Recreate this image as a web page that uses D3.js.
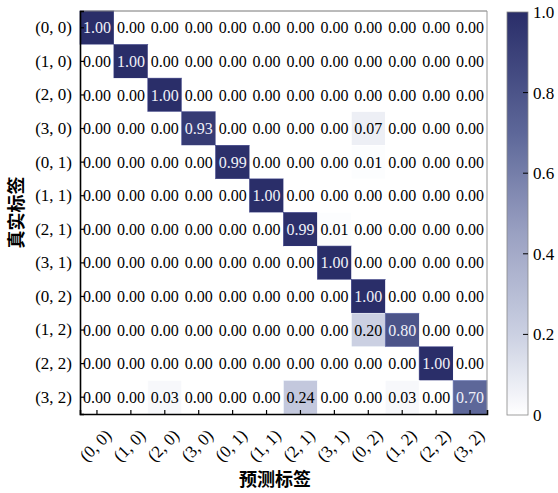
<!DOCTYPE html>
<html>
<head>
<meta charset="utf-8">
<script src="https://cdn.jsdelivr.net/npm/d3@7"></script>
<style>
  body { margin: 0; background: #fff; }
  svg { display: block; }
</style>
</head>
<body>
<svg width="558" height="493"></svg>
<script>
// class labels (same order on both axes)
var labels = ["(0, 0)", "(1, 0)", "(2, 0)", "(3, 0)", "(0, 1)", "(1, 1)",
              "(2, 1)", "(3, 1)", "(0, 2)", "(1, 2)", "(2, 2)", "(3, 2)"];

// normalised confusion matrix, one row per true label
var matrix = [
  [1.00, 0.00, 0.00, 0.00, 0.00, 0.00, 0.00, 0.00, 0.00, 0.00, 0.00, 0.00],
  [0.00, 1.00, 0.00, 0.00, 0.00, 0.00, 0.00, 0.00, 0.00, 0.00, 0.00, 0.00],
  [0.00, 0.00, 1.00, 0.00, 0.00, 0.00, 0.00, 0.00, 0.00, 0.00, 0.00, 0.00],
  [0.00, 0.00, 0.00, 0.93, 0.00, 0.00, 0.00, 0.00, 0.07, 0.00, 0.00, 0.00],
  [0.00, 0.00, 0.00, 0.00, 0.99, 0.00, 0.00, 0.00, 0.01, 0.00, 0.00, 0.00],
  [0.00, 0.00, 0.00, 0.00, 0.00, 1.00, 0.00, 0.00, 0.00, 0.00, 0.00, 0.00],
  [0.00, 0.00, 0.00, 0.00, 0.00, 0.00, 0.99, 0.01, 0.00, 0.00, 0.00, 0.00],
  [0.00, 0.00, 0.00, 0.00, 0.00, 0.00, 0.00, 1.00, 0.00, 0.00, 0.00, 0.00],
  [0.00, 0.00, 0.00, 0.00, 0.00, 0.00, 0.00, 0.00, 1.00, 0.00, 0.00, 0.00],
  [0.00, 0.00, 0.00, 0.00, 0.00, 0.00, 0.00, 0.00, 0.20, 0.80, 0.00, 0.00],
  [0.00, 0.00, 0.00, 0.00, 0.00, 0.00, 0.00, 0.00, 0.00, 0.00, 1.00, 0.00],
  [0.00, 0.00, 0.03, 0.00, 0.00, 0.00, 0.24, 0.00, 0.00, 0.03, 0.00, 0.70]
];

var cbTicks = [0, 0.2, 0.4, 0.6, 0.8, 1.0];

var svg = d3.select("svg"),
    margin = {top: 11, left: 80},
    width = 407,
    height = 403,
    serif = "'Liberation Serif', 'Times New Roman', serif",
    cjk = "'Noto Sans CJK SC', sans-serif";

var g = svg.append("g").attr("transform", "translate(" + margin.left + "," + margin.top + ")");

var x = d3.scaleBand().domain(d3.range(labels.length)).range([0, width]);
var y = d3.scaleBand().domain(d3.range(labels.length)).range([0, height]);

var color = d3.scaleLinear()
    .domain([0, 0.2, 0.45, 0.7, 1])
    .range(["#ffffff", "#cbd0e2", "#9aa1c2", "#5d6799", "#2a2e69"])
    .clamp(true);

var cells = [];
matrix.forEach(function(row, i) {
  row.forEach(function(v, j) { cells.push({r: i, c: j, v: v}); });
});

g.selectAll("rect.cell")
  .data(cells)
  .enter().append("rect")
    .attr("class", "cell")
    .attr("x", function(d) { return x(d.c); })
    .attr("y", function(d) { return y(d.r); })
    .attr("width", x.bandwidth())
    .attr("height", y.bandwidth())
    .attr("fill", function(d) { return color(d.v); })
    .attr("stroke", function(d) { return d.v > 0 ? d3.color(color(d.v)).brighter(0.6) : "none"; })
    .attr("stroke-width", 0.6);

g.selectAll("text.val")
  .data(cells)
  .enter().append("text")
    .attr("class", "val")
    .attr("x", function(d) { return x(d.c) + x.bandwidth() / 2; })
    .attr("y", function(d) { return y(d.r) + y.bandwidth() / 2; })
    .attr("dy", "0.35em")
    .attr("text-anchor", "middle")
    .attr("font-family", serif)
    .attr("font-size", "16px")
    .attr("fill", function(d) { return d.v > 0.5 ? "#f0f0f8" : "#000"; })
    .text(function(d) { return d.v.toFixed(2); });

// frame: grey top/right, black left/bottom
g.append("line").attr("x1", 0).attr("x2", width).attr("y1", 0).attr("y2", 0)
  .attr("stroke", "#777").attr("stroke-width", 1);
g.append("line").attr("x1", width).attr("x2", width).attr("y1", 0).attr("y2", height)
  .attr("stroke", "#999").attr("stroke-width", 1);

var yAxis = g.append("g")
    .call(d3.axisLeft(y).tickSize(-4).tickPadding(8).tickFormat(function(i) { return labels[i]; }));
var xAxis = g.append("g")
    .attr("transform", "translate(0," + height + ")")
    .call(d3.axisBottom(x).tickSize(-4).tickFormat(function(i) { return labels[i]; }));

[yAxis, xAxis].forEach(function(a) {
  a.select(".domain").attr("stroke", "#000").attr("stroke-width", 1.6);
  a.selectAll(".tick line").attr("stroke", "#000").attr("stroke-width", 1.2);
  a.selectAll("text").attr("font-family", serif).attr("font-size", "17px").attr("fill", "#000");
});

xAxis.selectAll(".tick text")
    .attr("text-anchor", "end")
    .attr("dy", "0.7em")
    .attr("transform", "translate(5,12) rotate(-45)");

// axis titles
svg.append("text")
    .attr("transform", "translate(17," + (margin.top + height / 2) + ") rotate(-90)")
    .attr("text-anchor", "middle")
    .attr("dy", "0.35em")
    .attr("font-family", cjk)
    .attr("font-weight", "bold")
    .attr("font-size", "18px")
    .text("真实标签");

svg.append("text")
    .attr("x", 275)
    .attr("y", 480)
    .attr("text-anchor", "middle")
    .attr("dy", "0.35em")
    .attr("font-family", cjk)
    .attr("font-weight", "bold")
    .attr("font-size", "18px")
    .text("预测标签");

// colour bar
var cbX = 507, cbW = 21, cbTop = 12, cbBottom = 415;
var defs = svg.append("defs");
var grad = defs.append("linearGradient")
    .attr("id", "cbgrad")
    .attr("x1", "0%").attr("x2", "0%").attr("y1", "100%").attr("y2", "0%");
grad.selectAll("stop")
  .data(d3.range(0, 1.0001, 0.05))
  .enter().append("stop")
    .attr("offset", function(d) { return (d * 100) + "%"; })
    .attr("stop-color", function(d) { return color(d); });

var cy = d3.scaleLinear().domain([0, 1]).range([cbBottom, cbTop]);

svg.append("rect")
    .attr("x", cbX).attr("y", cbTop)
    .attr("width", cbW).attr("height", cbBottom - cbTop)
    .attr("fill", "url(#cbgrad)")
    .attr("stroke", "#888").attr("stroke-width", 0.8);

var cb = svg.append("g").selectAll("g")
  .data(cbTicks)
  .enter().append("g")
    .attr("transform", function(d) { return "translate(0," + cy(d) + ")"; });
cb.filter(function(d) { return d > 0 && d < 1; }).append("line")
    .attr("x1", cbX + cbW - 5).attr("x2", cbX + cbW)
    .attr("stroke", "#000").attr("stroke-width", 1);
cb.append("text")
    .attr("x", cbX + cbW + 5)
    .attr("dy", "0.35em")
    .attr("font-family", serif)
    .attr("font-size", "17px")
    .text(function(d) { return d === 0 ? "0" : d.toFixed(1); });
</script>
</body>
</html>
